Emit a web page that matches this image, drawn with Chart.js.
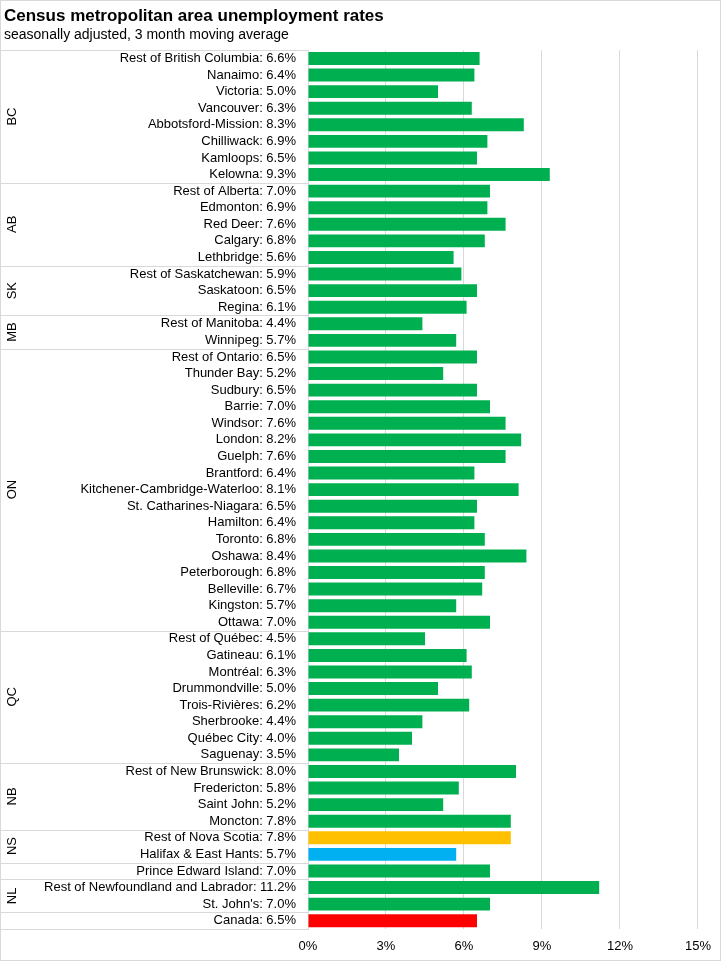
<!DOCTYPE html>
<html>
<head>
<meta charset="utf-8">
<script src="https://cdn.jsdelivr.net/npm/chart.js@4.4.1/dist/chart.umd.min.js"></script>
<style>
  html, body { margin: 0; padding: 0; background: #fff; }
</style>
</head>
<body>
<canvas id="chart" width="721" height="961"></canvas>
<script>
// places in draw order (top to bottom)
const places = [
  'Rest of British Columbia', 'Nanaimo', 'Victoria', 'Vancouver', 'Abbotsford-Mission', 'Chilliwack', 'Kamloops', 'Kelowna',
  'Rest of Alberta', 'Edmonton', 'Red Deer', 'Calgary', 'Lethbridge',
  'Rest of Saskatchewan', 'Saskatoon', 'Regina',
  'Rest of Manitoba', 'Winnipeg',
  'Rest of Ontario', 'Thunder Bay', 'Sudbury', 'Barrie', 'Windsor', 'London', 'Guelph', 'Brantford',
  'Kitchener-Cambridge-Waterloo', 'St. Catharines-Niagara', 'Hamilton', 'Toronto', 'Oshawa', 'Peterborough',
  'Belleville', 'Kingston', 'Ottawa',
  'Rest of Québec', 'Gatineau', 'Montréal', 'Drummondville', 'Trois-Rivières', 'Sherbrooke', 'Québec City', 'Saguenay',
  'Rest of New Brunswick', 'Fredericton', 'Saint John', 'Moncton',
  'Rest of Nova Scotia', 'Halifax & East Hants',
  'Prince Edward Island',
  'Rest of Newfoundland and Labrador', "St. John's",
  'Canada'
];
const rates = [
  6.6, 6.4, 5.0, 6.3, 8.3, 6.9, 6.5, 9.3,
  7.0, 6.9, 7.6, 6.8, 5.6,
  5.9, 6.5, 6.1,
  4.4, 5.7,
  6.5, 5.2, 6.5, 7.0, 7.6, 8.2, 7.6, 6.4, 8.1, 6.5, 6.4, 6.8, 8.4, 6.8, 6.7, 5.7, 7.0,
  4.5, 6.1, 6.3, 5.0, 6.2, 4.4, 4.0, 3.5,
  8.0, 5.8, 5.2, 7.8,
  7.8, 5.7,
  7.0,
  11.2, 7.0,
  6.5
];
// province groups: label and number of rows
const groupNames = ['BC', 'AB', 'SK', 'MB', 'ON', 'QC', 'NB', 'NS', '', 'NL', ''];
const groupSizes = [8, 5, 3, 2, 17, 8, 4, 2, 1, 2, 1];
const xTicks = [0, 3, 6, 9, 12, 15];

const labels = places.map((p, i) => p + ': ' + rates[i].toFixed(1) + '%');
const barColors = places.map(p => {
  if (p === 'Canada') return '#ff0000';
  if (p === 'Rest of Nova Scotia') return '#ffc000';
  if (p === 'Halifax & East Hants') return '#00b0f0';
  return '#00b050';
});

const FONT = 'Liberation Sans';
const PADL = 4;
const LEFT = 308;

const groupPlugin = {
  id: 'groups',
  beforeDraw(chart) {
    const ctx = chart.ctx;
    ctx.save();
    ctx.fillStyle = '#fff';
    ctx.fillRect(0, 0, chart.width, chart.height);
    ctx.strokeStyle = '#d9d9d9';
    ctx.strokeRect(0.5, 0.5, chart.width - 1, chart.height - 1);
    ctx.restore();
  },
  afterDraw(chart) {
    const { ctx, chartArea, scales } = chart;
    const y = scales.y;
    const half = (y.getPixelForValue(1) - y.getPixelForValue(0)) / 2;
    ctx.save();
    ctx.strokeStyle = '#d9d9d9';
    ctx.lineWidth = 1;
    ctx.fillStyle = '#000';
    ctx.font = '13px "' + FONT + '"';
    ctx.textAlign = 'center';
    ctx.textBaseline = 'middle';
    let start = 0;
    const line = yy => {
      ctx.beginPath();
      ctx.moveTo(0, Math.round(yy) + 0.5);
      ctx.lineTo(chartArea.left, Math.round(yy) + 0.5);
      ctx.stroke();
    };
    line(y.getPixelForValue(0) - half);
    groupSizes.forEach((n, g) => {
      const top = y.getPixelForValue(start) - half;
      const bottom = y.getPixelForValue(start + n - 1) + half;
      line(bottom);
      if (groupNames[g]) {
        ctx.save();
        ctx.translate(12, (top + bottom) / 2);
        ctx.rotate(-Math.PI / 2);
        ctx.fillText(groupNames[g], 0, 0);
        ctx.restore();
      }
      start += n;
    });
    ctx.restore();
  }
};

new Chart(document.getElementById('chart'), {
  type: 'bar',
  data: {
    labels: labels,
    datasets: [{
      data: rates,
      backgroundColor: barColors,
      barPercentage: 0.78,
      categoryPercentage: 1
    }]
  },
  options: {
    indexAxis: 'y',
    responsive: false,
    animation: false,
    devicePixelRatio: 1,
    layout: { padding: { top: 0, right: 22, bottom: 0, left: PADL } },
    plugins: {
      legend: { display: false },
      tooltip: { enabled: false },
      title: {
        display: true,
        text: 'Census metropolitan area unemployment rates',
        align: 'start',
        color: '#000',
        font: { family: FONT, size: 17, weight: 'bold' },
        padding: { top: 6, bottom: 0 }
      },
      subtitle: {
        display: true,
        text: 'seasonally adjusted, 3 month moving average',
        align: 'start',
        color: '#000',
        font: { family: FONT, size: 14 },
        padding: { top: 0, bottom: 7 }
      }
    },
    scales: {
      x: {
        min: 0,
        max: 15,
        afterBuildTicks: s => { s.ticks = xTicks.map(v => ({ value: v })); },
        afterFit: s => { s.height = 32; },
        ticks: {
          callback: v => v + '%',
          color: '#000',
          padding: 10,
          font: { family: FONT, size: 13 }
        },
        grid: { color: '#d9d9d9', drawTicks: false },
        border: { display: false }
      },
      y: {
        afterFit: s => { s.width = LEFT - PADL; },
        ticks: {
          color: '#000',
          padding: 12,
          autoSkip: false,
          font: { family: FONT, size: 13 }
        },
        grid: { display: false, drawTicks: false },
        border: { display: true, color: '#d9d9d9' }
      }
    }
  },
  plugins: [groupPlugin]
});
</script>
</body>
</html>
